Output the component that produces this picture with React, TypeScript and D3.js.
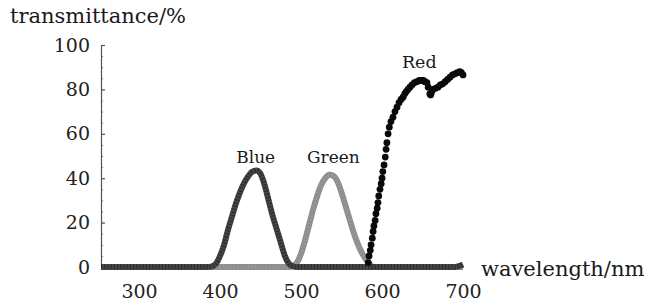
import React, { useEffect, useRef } from 'react';
import * as d3 from 'd3';

// wavelength (nm) / transmittance (%)
const blueWavelength = [253, 385, 390, 395, 400, 405, 410, 415, 420, 425, 430, 435, 440, 445, 450, 455, 460, 465, 470, 475, 480, 485, 490, 495, 600, 690, 695, 700];
const blueValue = [0, 0, 0.3, 1.5, 5, 10, 17, 23, 29, 34, 38, 41, 43, 43.5, 42, 37, 30, 23, 17, 11, 5, 1.5, 0.3, 0, 0, 0, 0.4, 1.2];

const greenWavelength = [253, 485, 490, 495, 500, 505, 510, 515, 520, 525, 530, 535, 540, 545, 550, 555, 560, 565, 570, 575, 580, 585, 590, 700];
const greenValue = [0, 0, 0.5, 2, 6, 12, 19, 26, 32, 37, 40, 41.5, 41, 38.5, 33.5, 27.5, 21.5, 15.5, 10.5, 6.5, 3.5, 1.2, 0, 0];

const redWavelength = [583, 584, 585.5, 586.5, 588, 589, 590, 591.5, 592.5, 594, 595, 596, 597.5, 599, 600, 601, 602.5, 604, 605, 606, 607.5, 609, 611, 613.5, 616, 618.5, 621, 623.5, 626, 628, 630, 632, 634.5, 637, 640, 643, 646, 649, 651, 653, 655.5, 657, 659, 660, 661, 663, 666, 669, 672, 675, 678, 681, 684, 687, 690, 693, 696, 698, 700];
const redValue = [2, 5, 7.5, 10, 13, 16, 18.5, 21, 24, 26.5, 29, 32, 35, 37.5, 40, 43, 46, 49.5, 53, 56, 60, 63, 65.5, 67.5, 70, 72, 74, 75.5, 76.5, 78, 79, 80, 81, 82, 83, 83.5, 84, 84, 84, 83.5, 83, 81, 78, 77.5, 78.5, 80, 80.5, 81, 82, 82.5, 83.5, 84.5, 85.5, 86.5, 87, 87.5, 88, 87.5, 86.5];

const xTicks = [300, 400, 500, 600, 700];
const yTicks = [0, 20, 40, 60, 80, 100];

const FONT = '"DejaVu Serif", serif';

export default function App() {
  const ref = useRef<SVGSVGElement>(null);

  useEffect(() => {
    const svg = d3.select(ref.current);
    svg.selectAll('*').remove();

    const x = d3.scaleLinear().domain([253, 700]).range([101, 463]);
    const y = d3.scaleLinear().domain([0, 100]).range([267, 45]);

    const blue = blueWavelength.map((w, i) => [w, blueValue[i]] as [number, number]);
    const green = greenWavelength.map((w, i) => [w, greenValue[i]] as [number, number]);
    const red = redWavelength.map((w, i) => [w, redValue[i]] as [number, number]);

    const line = d3.line<[number, number]>().x(d => x(d[0])).y(d => y(d[1])).curve(d3.curveMonotoneX);

    // minor ticks on y
    svg.append('g')
      .attr('transform', 'translate(101,0)')
      .call(d3.axisLeft(y).tickValues(d3.range(0, 101, 5)).tickSizeInner(-2).tickSizeOuter(0).tickFormat(() => ''))
      .call(g => g.selectAll('line,path').attr('stroke', '#777'));

    // y axis
    const ya = svg.append('g')
      .attr('transform', 'translate(101,0)')
      .call(d3.axisLeft(y).tickValues(yTicks).tickSizeInner(-4).tickSizeOuter(0).tickPadding(11));
    ya.selectAll('line,path').attr('stroke', '#555').attr('stroke-width', 1.2);
    ya.selectAll('text').attr('font-family', FONT).attr('font-size', 19).attr('fill', '#222');

    // x axis labels
    const xa = svg.append('g')
      .attr('transform', 'translate(0,267)')
      .call(d3.axisBottom(x).tickValues(xTicks).tickSize(0).tickPadding(18));
    xa.select('.domain').attr('stroke', '#555');
    xa.selectAll('text').attr('font-family', FONT).attr('font-size', 19).attr('fill', '#222');

    // green
    svg.append('path').datum(green).attr('d', line)
      .attr('fill', 'none').attr('stroke', '#8e8e8e').attr('stroke-width', 6).attr('stroke-linejoin', 'round');
    svg.append('path').datum(green).attr('d', line)
      .attr('fill', 'none').attr('stroke', '#9c9c9c').attr('stroke-width', 4).attr('stroke-dasharray', '1,2.5');

    // blue
    svg.append('path').datum(blue).attr('d', line)
      .attr('fill', 'none').attr('stroke', '#464646').attr('stroke-width', 6).attr('stroke-linejoin', 'round');
    svg.append('path').datum(blue).attr('d', line)
      .attr('fill', 'none').attr('stroke', '#2c2c2c').attr('stroke-width', 5).attr('stroke-dasharray', '1.2,2');

    // red dots
    svg.append('g').selectAll('circle').data(red).join('circle')
      .attr('cx', d => x(d[0])).attr('cy', d => y(d[1])).attr('r', 3.4).attr('fill', '#0a0a0a');

    // labels
    const lbl = (t: string, px: number, py: number, size: number, anchor = 'middle') =>
      svg.append('text').attr('x', px).attr('y', py).attr('text-anchor', anchor)
        .attr('font-family', FONT).attr('font-size', size).attr('fill', '#1a1a1a').text(t);

    lbl('transmittance/%', 10, 23, 21, 'start');
    lbl('wavelength/nm', 481, 276, 21, 'start');
    lbl('Blue', x(444), 163, 17);
    lbl('Green', x(540), 163, 17);
    lbl('Red', x(646), 68, 17.5);
  }, []);

  return <svg ref={ref} width={652} height={307} style={{ position: 'absolute', left: 0, top: 0, background: '#fff' }} />;
}
